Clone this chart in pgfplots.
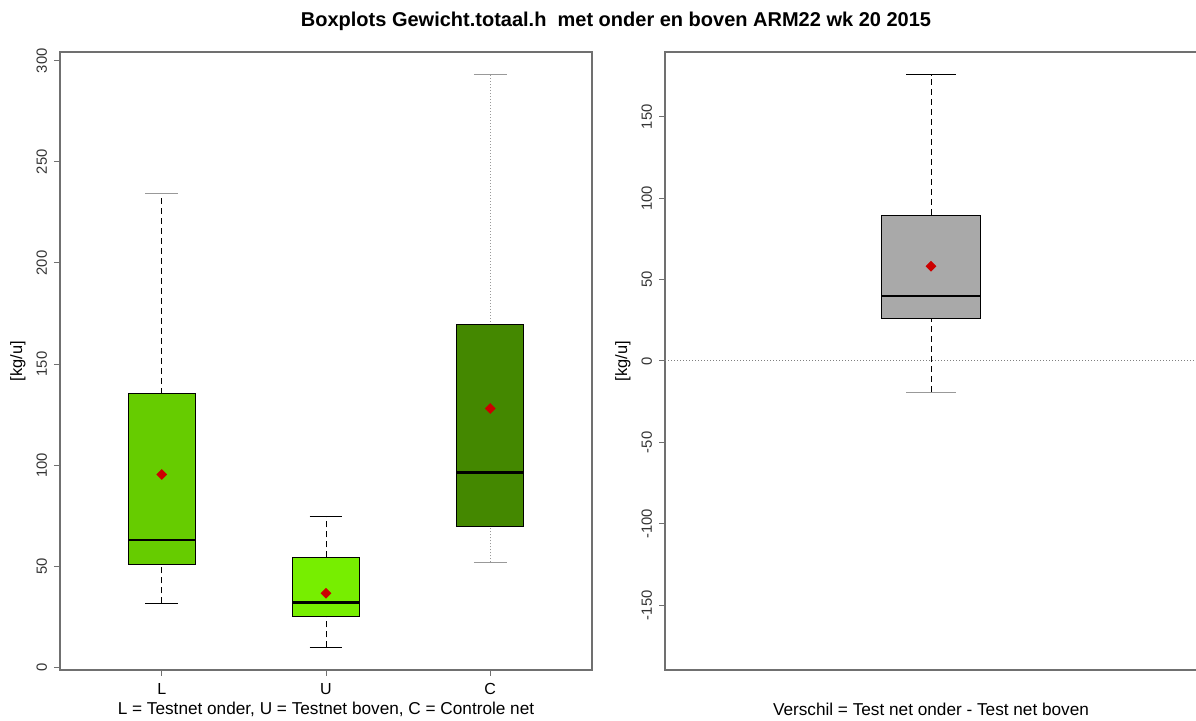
\documentclass[border=0pt]{standalone}
\usepackage{fontspec}
\setmainfont{Liberation Sans}
\usepackage{pgfplots}
\pgfplotsset{compat=1.18}
\definecolor{colL}{HTML}{66CC00}
\definecolor{colU}{HTML}{77EE00}
\definecolor{colC}{HTML}{448800}
\definecolor{colD}{HTML}{A9A9A9}
\definecolor{meanred}{HTML}{CC0000}
\definecolor{framegray}{HTML}{707070}
\definecolor{capgray}{HTML}{999999}
\tikzset{
  wstyle/.style={draw=black, line width=0.5pt, densely dashed},
  cstyle/.style={draw=capgray, line width=0.5pt, densely dotted},
  boxst/.style={draw=black, line width=0.5pt},
  medst/.style={draw=black, line width=1.1pt},
  avgst/.style={only marks, mark=square*, mark size=1.7pt, mark options={draw=meanred, fill=meanred, solid, rotate=45}},
}
\pgfplotsset{
  rbox/.style={
    scale only axis,
    width=266pt, height=309pt,
    axis line style={draw=framegray, line width=0.6pt},
    tick style={draw=framegray, line width=0.5pt},
    tick align=outside, tick pos=left,
    major tick length=3pt,
    /pgf/number format/assume math mode=true,
    tick label style={font=\fontsize{7.4}{8}\selectfont, text=black!80},
    xticklabel style={font=\fontsize{8}{9}\selectfont, text=black},
    yticklabel style={rotate=90, anchor=south},
    every axis y label/.style={at={(axis description cs:-0.079,0.5)}, rotate=90, anchor=center, font=\fontsize{8.2}{9}\selectfont},
    every axis x label/.style={at={(axis description cs:0.5,0)}, anchor=center, yshift=-19.5pt, font=\fontsize{8.6}{10}\selectfont},
  },
}
\begin{document}
\begin{tikzpicture}
\path[use as bounding box] (0,0) rectangle (598pt,360.5pt);
\node[font=\bfseries\fontsize{10}{11}\selectfont] at (308pt,350pt) {Boxplots Gewicht.totaal.h\ \ met onder en boven ARM22 wk 20 2015};
% Left panel
\begin{axis}[rbox, at={(30pt,25.5pt)}, anchor=south west,
  xmin=0.38, xmax=3.62, ymin=-1.3, ymax=304.3,
  xtick={1,2,3}, xticklabels={L,U,C},
  ytick={0,50,100,150,200,250,300},
  ylabel={[kg/u]},
  xlabel={L = Testnet onder, U = Testnet boven, C = Controle net}]
% L: lw 31.6, Q1 51.0, med 62.8, Q3 135.4, uw 234.2, mean 95.4
\addplot[wstyle] coordinates {(1,135.4) (1,234.2)};
\addplot[wstyle] coordinates {(1,31.6) (1,51.0)};
\addplot[boxst, fill=colL] coordinates {(0.795,51.0) (1.205,51.0) (1.205,135.4) (0.795,135.4)} -- cycle;
\addplot[medst] coordinates {(0.795,62.8) (1.205,62.8)};
\addplot[capgray, line width=0.6pt] coordinates {(0.9,234.2) (1.1,234.2)};
\addplot[black, line width=0.6pt] coordinates {(0.9,31.6) (1.1,31.6)};
\addplot[avgst] coordinates {(1,95.4)};
% U: lw 9.9, Q1 25.2, med 32.1, Q3 54.4, uw 74.6, mean 36.6
\addplot[wstyle] coordinates {(2,54.4) (2,74.6)};
\addplot[wstyle] coordinates {(2,9.9) (2,25.2)};
\addplot[boxst, fill=colU] coordinates {(1.795,25.2) (2.205,25.2) (2.205,54.4) (1.795,54.4)} -- cycle;
\addplot[medst] coordinates {(1.795,32.1) (2.205,32.1)};
\addplot[black, line width=0.6pt] coordinates {(1.9,74.6) (2.1,74.6)};
\addplot[black, line width=0.6pt] coordinates {(1.9,9.9) (2.1,9.9)};
\addplot[avgst] coordinates {(2,36.6)};
% C: lw 51.9, Q1 69.7, med 96.4, Q3 169.5, uw 293.1, mean 128.0
\addplot[cstyle] coordinates {(3,169.5) (3,293.1)};
\addplot[cstyle] coordinates {(3,51.9) (3,69.7)};
\addplot[boxst, fill=colC] coordinates {(2.795,69.7) (3.205,69.7) (3.205,169.5) (2.795,169.5)} -- cycle;
\addplot[medst] coordinates {(2.795,96.4) (3.205,96.4)};
\addplot[capgray, line width=0.6pt] coordinates {(2.9,293.1) (3.1,293.1)};
\addplot[capgray, line width=0.6pt] coordinates {(2.9,51.9) (3.1,51.9)};
\addplot[avgst] coordinates {(3,128.0)};
\end{axis}
% Right panel
\begin{axis}[rbox, at={(332.5pt,25.5pt)}, anchor=south west,
  xmin=0.46, xmax=1.54, ymin=-189.8, ymax=189.8,
  xtick=\empty,
  ytick={-150,-100,-50,0,50,100,150},
  ylabel={[kg/u]},
  xlabel={Verschil = Test net onder - Test net boven}]
\addplot[black!50, densely dotted, line width=0.5pt] coordinates {(0.46,0) (1.54,0)};
% D: lw -19.2, Q1 26.2, med 39.7, Q3 89.6, uw 175.7, mean 58.2
\addplot[wstyle] coordinates {(1,89.6) (1,175.7)};
\addplot[wstyle] coordinates {(1,-19.2) (1,26.2)};
\addplot[boxst, fill=colD] coordinates {(0.9,26.2) (1.1,26.2) (1.1,89.6) (0.9,89.6)} -- cycle;
\addplot[medst] coordinates {(0.9,39.7) (1.1,39.7)};
\addplot[black, line width=0.5pt] coordinates {(0.95,175.7) (1.05,175.7)};
\addplot[capgray, line width=0.6pt] coordinates {(0.95,-19.2) (1.05,-19.2)};
\addplot[avgst] coordinates {(1,58.2)};
\end{axis}
\end{tikzpicture}
\end{document}
